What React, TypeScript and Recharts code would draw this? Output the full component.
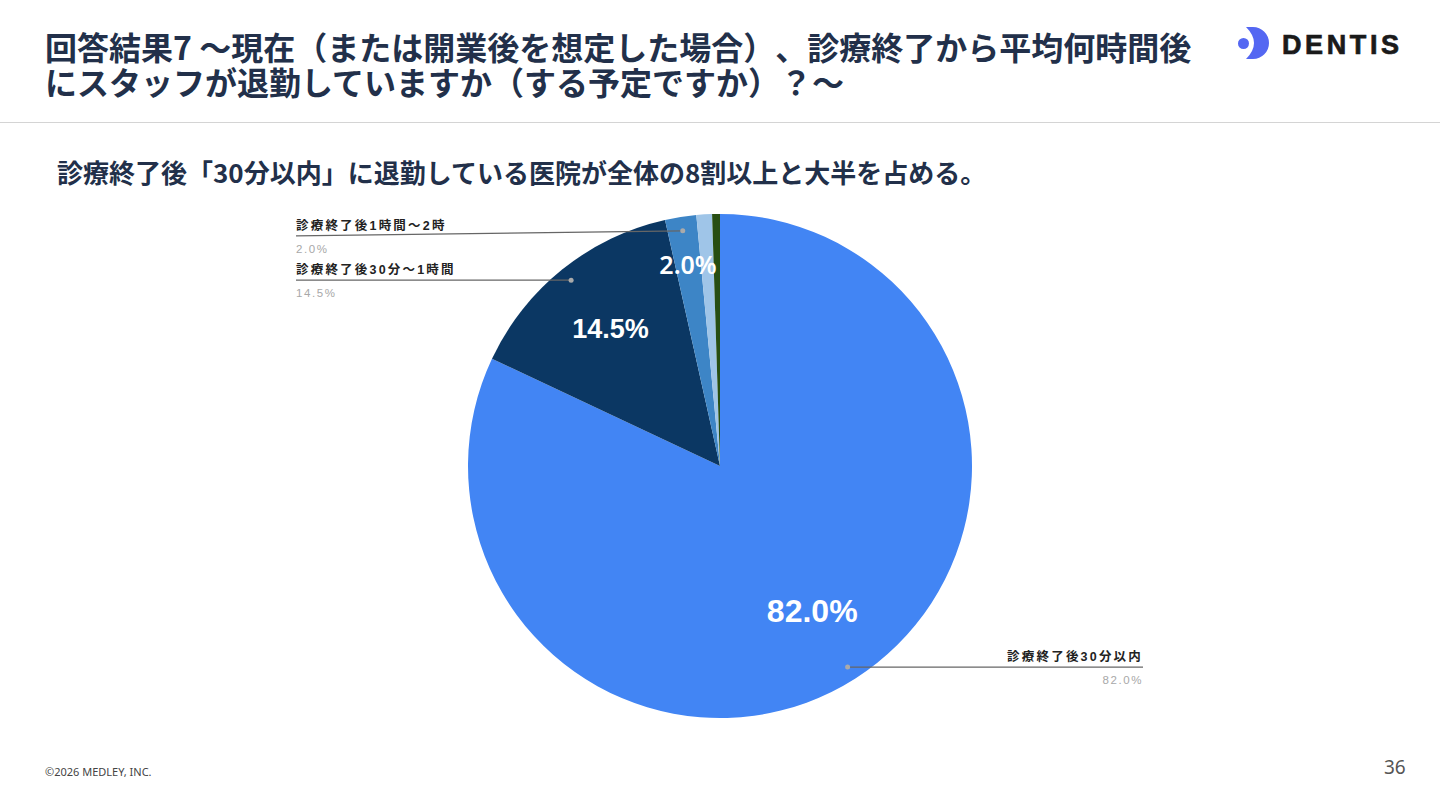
import React from 'react';
import { PieChart, Pie, Cell } from 'recharts';

const categories = [
  '診療終了後30分以内',
  '診療終了後30分～1時間',
  '診療終了後1時間～2時',
  '診療終了後2時間以上',
  'その他',
];
const values = [82.0, 14.5, 2.0, 1.0, 0.5];
const innerLabels = ['82.0%', '14.5%', '2.0%', '', ''];
const leaderValueLabels = ['82.0%', '14.5%', '2.0%', '', ''];
const colors = ['#4285F4', '#0B3763', '#3D85C6', '#9FC5E8', '#274E13'];

const data = categories.map((name, i) => ({ name, value: values[i] }));

const RAD = Math.PI / 180;
const polar = (cx: number, cy: number, r: number, a: number) => ({
  x: cx + r * Math.cos(-a * RAD),
  y: cy + r * Math.sin(-a * RAD),
});

const innerRadiusFrac = [0.683, 0.695, 0.81];
const innerFontSize = [32, 27, 25];
const innerFontFamily = [
  '"Liberation Sans", Arial, sans-serif',
  '"Liberation Sans", Arial, sans-serif',
  '"Noto Sans", sans-serif',
];
const leaderYShift = [0, 0, 5];
const CJK = '"Liberation Sans", "Noto Sans CJK JP", sans-serif';

const renderLabel = (props: any) => {
  const { cx, cy, midAngle, outerRadius, index } = props;
  if (index > 2) return null;
  const p = polar(cx, cy, outerRadius * innerRadiusFrac[index], midAngle);
  const d = polar(cx, cy, outerRadius * 0.945, midAngle);
  const right = d.x > cx;
  const ax = right ? cx + 423 : cx - 424;
  const ly = d.y + leaderYShift[index];
  const anchor = right ? 'end' : 'start';
  return (
    <g key={`lbl-${index}`}>
      <text
        x={p.x}
        y={p.y}
        fill="#ffffff"
        textAnchor="middle"
        dominantBaseline="central"
        fontSize={innerFontSize[index]}
        fontWeight={index === 2 ? 600 : 700}
        fontFamily={innerFontFamily[index]}
      >
        {innerLabels[index]}
      </text>
      <line x1={d.x} y1={d.y} x2={ax} y2={ly} stroke="#666" strokeWidth={1.2} />
      <circle cx={d.x} cy={d.y} r={2.5} fill="#aaa" />
      <text
        x={ax}
        y={ly - 6}
        textAnchor={anchor}
        fontSize={12.5}
        fontWeight={700}
        fill="#222"
        letterSpacing={2.2}
        fontFamily={CJK}
      >
        {categories[index]}
      </text>
      <text
        x={ax}
        y={ly + 17}
        textAnchor={anchor}
        fontSize={11.5}
        fill="#a8a8a8"
        letterSpacing={1.6}
        fontFamily='"Liberation Sans", Arial, sans-serif'
      >
        {leaderValueLabels[index]}
      </text>
    </g>
  );
};

const titleColor = '#22304A';

const titleLine: React.CSSProperties = {
  position: 'absolute',
  left: 45,
  height: 35,
  fontSize: 32,
  lineHeight: '35px',
  fontWeight: 700,
  color: titleColor,
  whiteSpace: 'nowrap',
  // @ts-ignore
  textSpacingTrim: 'space-all',
};

export default function App() {
  return (
    <div
      style={{
        position: 'absolute',
        left: 0,
        top: 0,
        width: 1440,
        height: 810,
        overflow: 'hidden',
        background: '#ffffff',
        fontFamily: '"Noto Sans CJK JP", sans-serif',
      }}
    >
      <div style={{ ...titleLine, top: 29 }}>
        回答結果7 ～現在（または開業後を想定した場合）、診療終了から平均何時間後
      </div>
      <div style={{ ...titleLine, top: 64 }}>
        にスタッフが退勤していますか（する予定ですか）？～
      </div>
      <svg
        width={200}
        height={60}
        style={{ position: 'absolute', left: 1220, top: 15 }}
        viewBox="1220 15 200 60"
      >
        <circle cx={1243.5} cy={43.5} r={5.5} fill="#5467F2" />
        <path
          d="M1246,27 L1253,27 A16,16 0 0 1 1253,59 L1246,59 Q1262,43 1246,27 Z"
          fill="#5467F2"
        />
        <text
          x={1282}
          y={54}
          fontSize={27}
          fontWeight={700}
          letterSpacing={3.6}
          fill="#1a1a1a"
          stroke="#1a1a1a"
          strokeWidth={0.7}
          fontFamily='"Liberation Sans", Arial, sans-serif'
        >
          DENTIS
        </text>
      </svg>
      <div
        style={{
          position: 'absolute',
          left: 0,
          top: 122,
          width: 1440,
          height: 0,
          borderTop: '1.5px solid #d4d4d4',
        }}
      />
      <div
        style={{
          position: 'absolute',
          left: 57,
          top: 155,
          fontSize: 26,
          lineHeight: '34px',
          fontWeight: 700,
          color: titleColor,
          whiteSpace: 'nowrap',
          // @ts-ignore
          textSpacingTrim: 'space-all',
        } as React.CSSProperties}
      >
        診療終了後「30分以内」に退勤している医院が全体の8割以上と大半を占める。
      </div>
      <div style={{ position: 'absolute', left: 0, top: 0 }}>
        <PieChart width={1440} height={810} margin={{ top: 0, right: 0, bottom: 0, left: 0 }}>
          <Pie
            data={data}
            dataKey="value"
            nameKey="name"
            cx={720}
            cy={466}
            outerRadius={252}
            startAngle={90}
            endAngle={-270}
            stroke="none"
            labelLine={false}
            label={renderLabel}
            isAnimationActive={false}
          >
            {data.map((d, i) => (
              <Cell key={d.name} fill={colors[i]} />
            ))}
          </Pie>
        </PieChart>
      </div>
      <div
        style={{
          position: 'absolute',
          left: 45,
          top: 764,
          fontSize: 11,
          lineHeight: '16px',
          color: '#444',
          fontFamily: '"Noto Sans", sans-serif',
          whiteSpace: 'nowrap',
        }}
      >
        ©2026 MEDLEY, INC.
      </div>
      <div
        style={{
          position: 'absolute',
          left: 1384,
          top: 754,
          fontSize: 19,
          lineHeight: '26px',
          color: '#555',
          fontFamily: '"Noto Sans", sans-serif',
        }}
      >
        36
      </div>
    </div>
  );
}
